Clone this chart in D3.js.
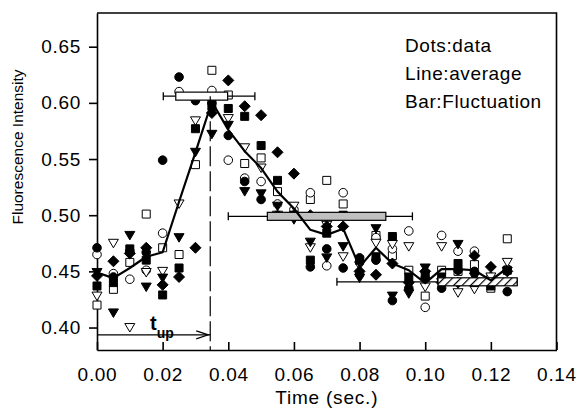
<!DOCTYPE html>
<meta charset="utf-8">
<style>
    html, body {
        margin: 0;
        padding: 0;
        background: #fff;
    }
    svg text {
        font-family: "Liberation Sans", Arial, sans-serif;
        fill: #000;
    }
    .axis path, .axis line {
        stroke: #000;
        stroke-width: 1.6px;
    }
    .axis text {
        font-size: 19px;
        letter-spacing: 0.7px;
    }
</style>
<body>
<div id="chart"></div>
<script src="https://cdn.jsdelivr.net/npm/d3@7"></script>
<script>
// sample times (sec.)
var times = [0.000, 0.005, 0.010, 0.015, 0.020, 0.025, 0.030, 0.035, 0.040, 0.045,
             0.050, 0.055, 0.060, 0.065, 0.070, 0.075, 0.080, 0.085, 0.090, 0.095,
             0.100, 0.105, 0.110, 0.115, 0.120, 0.125];

// one array per marker type (7 repeated runs)
var filledCircle   = [0.471, 0.445, 0.468, 0.467, 0.549, 0.623, 0.602, 0.600, 0.571, 0.530,
                      0.514, 0.500, 0.500, 0.454, 0.470, 0.453, 0.462, 0.460, 0.424, 0.435,
                      0.444, 0.435, 0.451, 0.450, 0.440, 0.432];
var openCircle     = [0.465, 0.448, 0.443, 0.451, 0.484, 0.610, 0.604, 0.611, 0.549, 0.533,
                      0.530, 0.510, 0.505, 0.520, 0.455, 0.520, 0.447, 0.480, 0.470, 0.486,
                      0.418, 0.482, 0.468, 0.468, 0.445, 0.452];
var filledSquare   = [0.437, 0.440, 0.470, 0.460, 0.429, 0.453, 0.577, 0.597, 0.595, 0.588,
                      0.562, 0.531, 0.500, 0.460, 0.484, 0.500, 0.460, 0.463, 0.481, 0.445,
                      0.447, 0.445, 0.457, 0.440, 0.437, 0.451];
var openSquare     = [0.420, 0.434, 0.458, 0.501, 0.471, 0.465, 0.545, 0.629, 0.607, 0.546,
                      0.551, 0.521, 0.500, 0.514, 0.531, 0.510, 0.460, 0.482, 0.464, 0.451,
                      0.428, 0.451, 0.450, 0.456, 0.435, 0.479];
var filledDiamond  = [0.446, 0.459, 0.466, 0.471, 0.438, 0.445, 0.471, 0.591, 0.620, 0.597,
                      0.589, 0.556, 0.537, 0.500, 0.490, 0.490, 0.450, 0.447, 0.457, 0.440,
                      0.450, 0.440, 0.440, 0.464, 0.454, 0.450];
var filledTriangle = [0.449, 0.413, 0.482, 0.436, 0.444, 0.480, 0.556, 0.572, 0.580, 0.521,
                      0.519, 0.508, 0.496, 0.476, 0.462, 0.472, 0.444, 0.488, 0.428, 0.430,
                      0.453, 0.440, 0.474, 0.445, 0.440, 0.450];
var openTriangle   = [0.428, 0.475, 0.400, 0.449, 0.450, 0.510, 0.584, 0.600, 0.586, 0.560,
                      0.542, 0.500, 0.508, 0.471, 0.491, 0.463, 0.455, 0.475, 0.474, 0.472,
                      0.436, 0.472, 0.431, 0.434, 0.445, 0.458];

// average line
var average = [0.449, 0.444, 0.453, 0.463, 0.467, 0.512, 0.556, 0.601, 0.576, 0.557,
               0.542, 0.521, 0.506, 0.487, 0.4825, 0.488, 0.454, 0.471, 0.457, 0.451,
               0.4395, 0.452, 0.452, 0.451, 0.442, 0.453];

// fluctuation bars: level, box ends, whisker ends
var barLevel        = [0.606, 0.499, 0.4407];
var barBoxStart     = [0.0240, 0.0519, 0.1039];
var barBoxEnd       = [0.0398, 0.0880, 0.1280];
var barWhiskerStart = [0.0202, 0.0400, 0.0731];
var barWhiskerEnd   = [0.0481, 0.0961, 0.1280];
var barFill         = ["white", "#c0c0c0", "url(#hatch)"];

// rise time marker
var tUp = 0.0345;
var tUpLevel = 0.3935;

var xTicks = [0, 0.02, 0.04, 0.06, 0.08, 0.10, 0.12, 0.14];
var yTicks = [0.40, 0.45, 0.50, 0.55, 0.60, 0.65];

var legendLines = ["Dots:data", "Line:average", "Bar:Fluctuation"];

var width = 581, height = 412;

var x = d3.scaleLinear().domain([0, 0.14]).range([97, 556.5]);
var y = d3.scaleLinear().domain([0.38, 0.68]).range([350, 13]);

var svg = d3.select("#chart").append("svg")
    .attr("width", width)
    .attr("height", height);

var defs = svg.append("defs");
var hatch = defs.append("pattern")
    .attr("id", "hatch")
    .attr("patternUnits", "userSpaceOnUse")
    .attr("width", 6)
    .attr("height", 6)
    .attr("patternTransform", "rotate(45)");
hatch.append("rect").attr("width", 6).attr("height", 6).attr("fill", "white");
hatch.append("line")
    .attr("x1", 0).attr("y1", 0).attr("x2", 0).attr("y2", 6)
    .attr("stroke", "black").attr("stroke-width", 2.4);

// axes
svg.append("g")
    .attr("class", "axis")
    .attr("transform", "translate(0," + y.range()[0] + ")")
    .call(d3.axisBottom(x).tickValues(xTicks).tickFormat(d3.format(".2f"))
        .tickSizeInner(-8).tickSizeOuter(0).tickPadding(18));

svg.append("g")
    .attr("class", "axis")
    .attr("transform", "translate(" + x.range()[0] + ",0)")
    .call(d3.axisLeft(y).tickValues(yTicks).tickFormat(d3.format(".2f"))
        .tickSizeInner(8).tickSizeOuter(0).tickPadding(8));

// top and right frame
svg.append("path")
    .attr("d", "M" + x.range()[0] + "," + y.range()[1] + "H" + x.range()[1] + "V" + y.range()[0])
    .attr("fill", "none")
    .attr("stroke", "#000")
    .attr("stroke-width", 1.6);

svg.append("text")
    .attr("x", (x.range()[0] + x.range()[1]) / 2)
    .attr("y", 404)
    .attr("text-anchor", "middle")
    .style("font-size", "19px")
    .style("letter-spacing", "0.8px")
    .text("Time (sec.)");

svg.append("text")
    .attr("transform", "translate(23,147) rotate(-90)")
    .attr("text-anchor", "middle")
    .style("font-size", "15.5px")
    .text("Fluorescence Intensity");

// markers
function shape(type) {
    var p = d3.path();
    if (type == "circle") {
        p.arc(0, 0, 4.3, 0, 2 * Math.PI);
    } else if (type == "square") {
        p.rect(-4, -4, 8, 8);
    } else if (type == "diamond") {
        p.moveTo(0, -5.5); p.lineTo(5.5, 0); p.lineTo(0, 5.5); p.lineTo(-5.5, 0); p.closePath();
    } else {
        p.moveTo(-5, -4); p.lineTo(5, -4); p.lineTo(0, 4.5); p.closePath();
    }
    return p.toString();
}

var series = [
    {values: openSquare, type: "square", filled: false},
    {values: openCircle, type: "circle", filled: false},
    {values: openTriangle, type: "triangle", filled: false},
    {values: filledSquare, type: "square", filled: true},
    {values: filledDiamond, type: "diamond", filled: true},
    {values: filledCircle, type: "circle", filled: true},
    {values: filledTriangle, type: "triangle", filled: true}
];

series.forEach(function(s) {
    svg.append("g").selectAll("path")
        .data(s.values)
        .enter().append("path")
        .attr("d", shape(s.type))
        .attr("transform", function(d, i) { return "translate(" + x(times[i]) + "," + y(d) + ")"; })
        .attr("fill", s.filled ? "#000" : "#fff")
        .attr("stroke", "#000")
        .attr("stroke-width", 1);
});

// fluctuation bars
barLevel.forEach(function(v, i) {
    var g = svg.append("g");
    var yc = y(v);
    g.append("line")
        .attr("x1", x(barWhiskerStart[i])).attr("x2", x(barWhiskerEnd[i]))
        .attr("y1", yc).attr("y2", yc)
        .attr("stroke", "#000").attr("stroke-width", 1.3);
    [barWhiskerStart[i], barWhiskerEnd[i]].forEach(function(w) {
        g.append("line")
            .attr("x1", x(w)).attr("x2", x(w))
            .attr("y1", yc - 4).attr("y2", yc + 4)
            .attr("stroke", "#000").attr("stroke-width", 1.3);
    });
    g.append("rect")
        .attr("x", x(barBoxStart[i]))
        .attr("y", yc - 4)
        .attr("width", x(barBoxEnd[i]) - x(barBoxStart[i]))
        .attr("height", 8)
        .attr("fill", barFill[i])
        .attr("stroke", "#000")
        .attr("stroke-width", 1.2);
});

// average line
svg.append("path")
    .datum(average)
    .attr("d", d3.line().x(function(d, i) { return x(times[i]); }).y(function(d) { return y(d); }))
    .attr("fill", "none")
    .attr("stroke", "#000")
    .attr("stroke-width", 2.2)
    .attr("stroke-linejoin", "round");

// rise time: dashed vertical + arrow
svg.append("line")
    .attr("x1", x(tUp)).attr("x2", x(tUp))
    .attr("y1", y(barLevel[0])).attr("y2", y.range()[0])
    .attr("stroke", "#000")
    .attr("stroke-width", 1.2)
    .attr("stroke-dasharray", "20,5");

svg.append("line")
    .attr("x1", x(0)).attr("x2", x(tUp))
    .attr("y1", y(tUpLevel)).attr("y2", y(tUpLevel))
    .attr("stroke", "#000").attr("stroke-width", 1.2);

svg.append("path")
    .attr("d", "M" + (x(tUp) - 14) + "," + (y(tUpLevel) - 4) + "L" + (x(tUp) - 2) + "," + y(tUpLevel) +
               "L" + (x(tUp) - 14) + "," + (y(tUpLevel) + 4))
    .attr("fill", "none").attr("stroke", "#000").attr("stroke-width", 1.2);

var tLabel = svg.append("text")
    .attr("x", 150)
    .attr("y", y(tUpLevel) - 5)
    .style("font-size", "20px")
    .style("font-weight", "bold");
tLabel.append("tspan").text("t");
tLabel.append("tspan").attr("dy", 8).style("font-size", "14px").text("up");

// legend text
svg.append("g").selectAll("text")
    .data(legendLines)
    .enter().append("text")
    .attr("x", 405)
    .attr("y", function(d, i) { return 52 + i * 28; })
    .style("font-size", "19px")
    .style("letter-spacing", "0.6px")
    .text(function(d) { return d; });
</script>
</body>
